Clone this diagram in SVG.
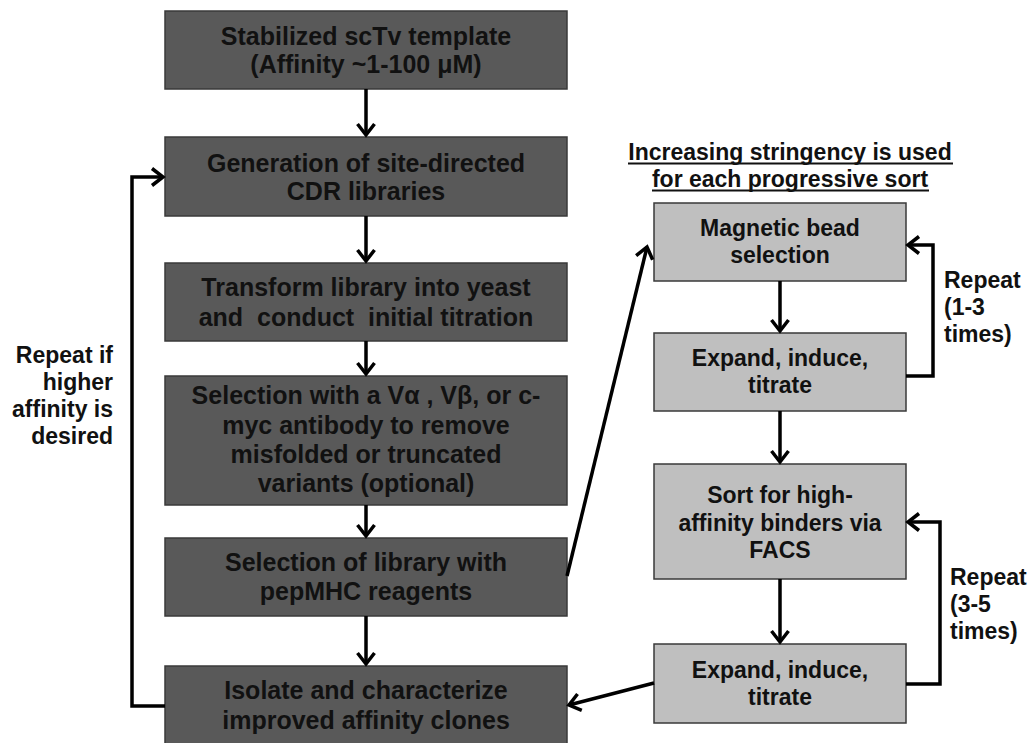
<svg xmlns="http://www.w3.org/2000/svg" width="1035" height="743" viewBox="0 0 1035 743">
<defs>
<style>
.dk{fill:#595959;stroke:#3a3a3a;stroke-width:1.5}
.lt{fill:#bfbfbf;stroke:#3a3a3a;stroke-width:1.5}
.t{font-family:"Liberation Sans",Arial,sans-serif;font-weight:bold;font-size:25px;fill:#111;text-anchor:middle}
.s{font-family:"Liberation Sans",Arial,sans-serif;font-weight:bold;font-size:23px;fill:#111;text-anchor:middle}
.l{font-family:"Liberation Sans",Arial,sans-serif;font-weight:bold;font-size:23px;fill:#111}
.c{fill:none;stroke:#000;stroke-width:3.5}
</style>
<marker id="ah" markerUnits="userSpaceOnUse" markerWidth="30" markerHeight="30" viewBox="-15 -15 30 30" refX="0" refY="0" orient="auto" overflow="visible">
<path d="M-11,-8.5 L0,0 L-11,8.5" fill="none" stroke="#000" stroke-width="3.5"/>
</marker>
</defs>
<rect width="1035" height="743" fill="#fff"/>

<g id="n1"><rect class="dk" x="165" y="11" width="402" height="78"/>
<text class="t" x="366" y="45">Stabilized scTv template</text>
<text class="t" x="366" y="73">(Affinity ~1-100 μM)</text></g>

<g id="n2"><rect class="dk" x="165" y="137" width="402" height="79"/>
<text class="t" x="366" y="172">Generation of site-directed</text>
<text class="t" x="366" y="200">CDR libraries</text></g>

<g id="n3"><rect class="dk" x="165" y="263" width="402" height="78"/>
<text class="t" x="366" y="296">Transform library into yeast</text>
<text class="t" x="366" y="326" style="white-space:pre">and  conduct  initial titration</text></g>

<g id="n4"><rect class="dk" x="165" y="376" width="402" height="129"/>
<text class="t" x="366" y="404">Selection with a Vα , Vβ, or c-</text>
<text class="t" x="366" y="434">myc antibody to remove</text>
<text class="t" x="366" y="463">misfolded or truncated</text>
<text class="t" x="366" y="492">variants (optional)</text></g>

<g id="n5"><rect class="dk" x="165" y="538" width="402" height="78"/>
<text class="t" x="366" y="571">Selection of library with</text>
<text class="t" x="366" y="600">pepMHC reagents</text></g>

<g id="n6"><rect class="dk" x="165" y="666" width="402" height="90"/>
<text class="t" x="366" y="699">Isolate and characterize</text>
<text class="t" x="366" y="729">improved affinity clones</text></g>

<g id="title">
<text class="s" x="790" y="160">Increasing stringency is used</text>
<text class="s" x="790" y="187">for each progressive sort</text>
<line x1="628" y1="163.5" x2="953" y2="163.5" stroke="#111" stroke-width="1.8"/>
<line x1="652" y1="190.5" x2="929" y2="190.5" stroke="#111" stroke-width="1.8"/>
</g>

<g id="r1"><rect class="lt" x="654" y="203" width="252" height="78"/>
<text class="s" x="780" y="236">Magnetic bead</text>
<text class="s" x="780" y="263">selection</text></g>

<g id="r2"><rect class="lt" x="654" y="333" width="252" height="78"/>
<text class="s" x="780" y="366">Expand, induce,</text>
<text class="s" x="780" y="393">titrate</text></g>

<g id="r3"><rect class="lt" x="654" y="464" width="252" height="115"/>
<text class="s" x="780" y="503">Sort for high-</text>
<text class="s" x="780" y="531">affinity binders via</text>
<text class="s" x="780" y="558">FACS</text></g>

<g id="r4"><rect class="lt" x="654" y="644" width="252" height="79"/>
<text class="s" x="780" y="678">Expand, induce,</text>
<text class="s" x="780" y="705">titrate</text></g>

<g id="labels">
<text class="l" x="113" y="363" text-anchor="end">Repeat if</text>
<text class="l" x="113" y="390" text-anchor="end">higher</text>
<text class="l" x="113" y="417" text-anchor="end">affinity is</text>
<text class="l" x="113" y="444" text-anchor="end">desired</text>
<text class="l" x="944" y="288">Repeat</text>
<text class="l" x="944" y="315">(1-3</text>
<text class="l" x="944" y="342">times)</text>
<text class="l" x="950" y="585">Repeat</text>
<text class="l" x="950" y="612">(3-5</text>
<text class="l" x="950" y="639">times)</text>
</g>

<g id="connectors">
<line class="c" x1="366" y1="89" x2="366" y2="135" marker-end="url(#ah)"/>
<line class="c" x1="366" y1="216" x2="366" y2="261" marker-end="url(#ah)"/>
<line class="c" x1="366" y1="341" x2="366" y2="374" marker-end="url(#ah)"/>
<line class="c" x1="366" y1="505" x2="366" y2="536" marker-end="url(#ah)"/>
<line class="c" x1="366" y1="616" x2="366" y2="664" marker-end="url(#ah)"/>
<polyline class="c" points="165,706 132,706 132,177 163,177" marker-end="url(#ah)"/>
<line class="c" x1="567" y1="576" x2="647" y2="247" marker-end="url(#ah)"/>
<line class="c" x1="654" y1="683" x2="569" y2="705" marker-end="url(#ah)"/>
<line class="c" x1="780" y1="281" x2="780" y2="331" marker-end="url(#ah)"/>
<line class="c" x1="780" y1="411" x2="780" y2="462" marker-end="url(#ah)"/>
<line class="c" x1="780" y1="579" x2="780" y2="642" marker-end="url(#ah)"/>
<polyline class="c" points="906,376 933,376 933,245 908,245" marker-end="url(#ah)"/>
<polyline class="c" points="906,684 940,684 940,522 908,522" marker-end="url(#ah)"/>
</g>
</svg>
